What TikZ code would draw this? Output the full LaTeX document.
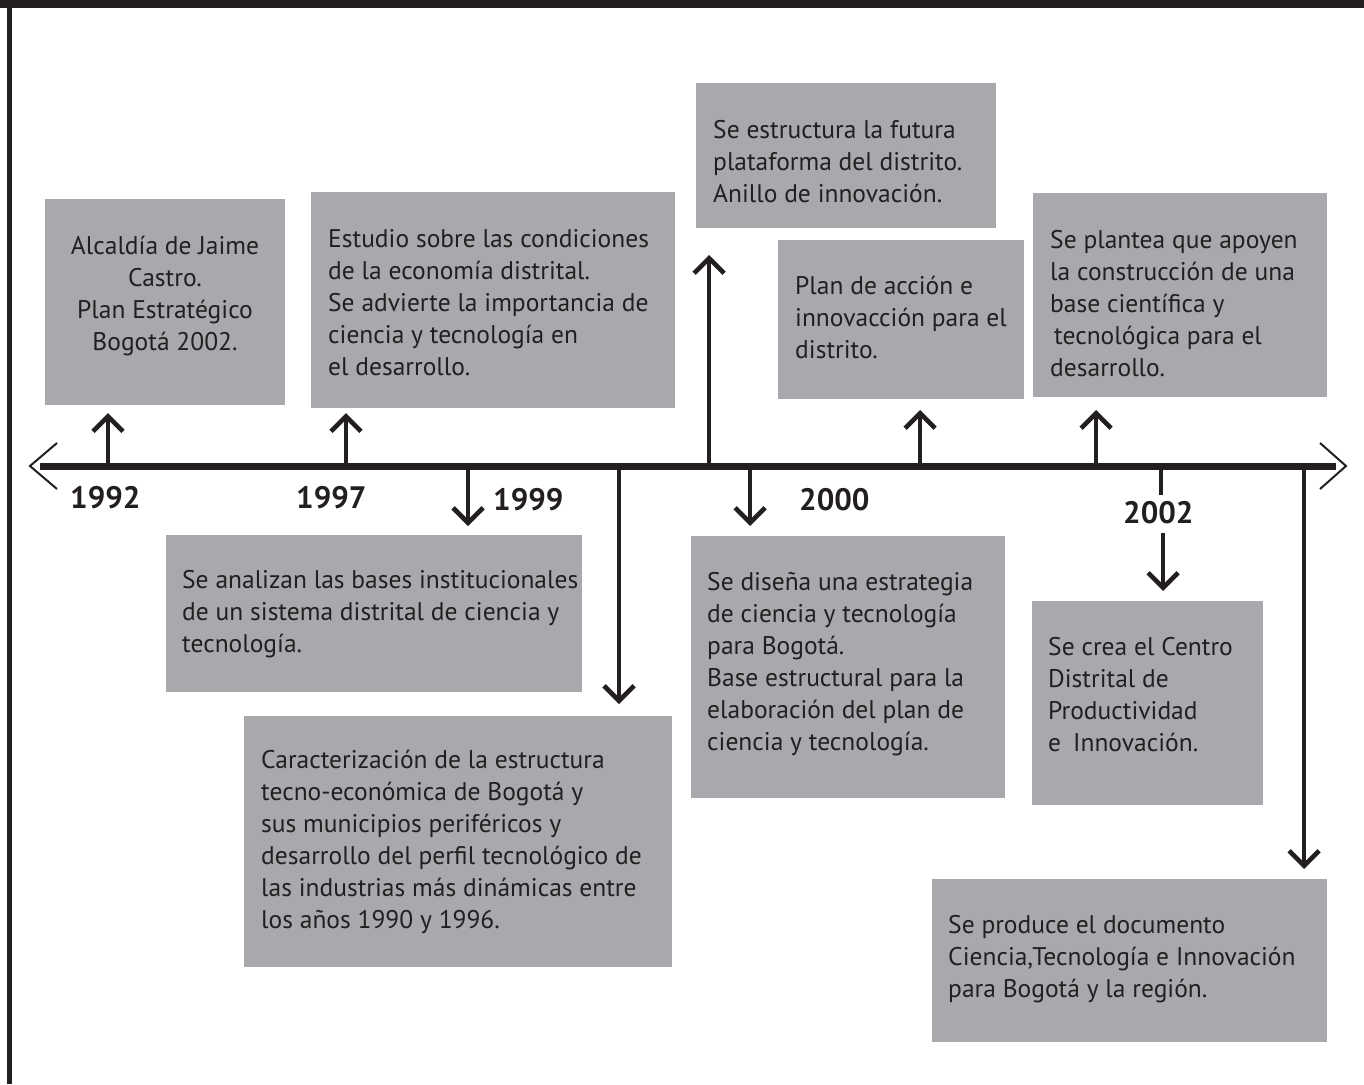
\documentclass[tikz,border=0pt]{standalone}
\usepackage{fontspec}
\setmainfont{PT Sans}
\usetikzlibrary{arrows.meta}
\definecolor{boxgray}{HTML}{A7A9AC}
\definecolor{ink}{HTML}{231F20}
\tikzset{
  box/.style={fill=boxgray, draw=none, inner sep=0pt, anchor=north west},
  txt/.style={inner sep=0pt, anchor=north west, align=left, text=ink,
    font=\fontsize{25.5}{32}\selectfont},
  ctxt/.style={inner sep=0pt, anchor=north, align=center, text=ink,
    font=\fontsize{25.5}{32}\selectfont},
  year/.style={inner sep=0pt, anchor=base west, text=ink,
    font=\fontsize{31}{36}\selectfont\bfseries},
  arr/.style={draw=ink, line width=4.6pt,
    -{Straight Barb[length=15pt,width=30pt,line width=4.6pt]}},
  tick/.style={draw=ink, line width=4.6pt},
  chev/.style={draw=ink, line width=2pt, line join=miter},
}
\newcommand{\sk}{\strut}
\begin{document}
\begin{tikzpicture}[x=1pt,y=-1pt]
\useasboundingbox (0,0) rectangle (1364,1084);
\fill[white] (0,0) rectangle (1364,1084);
% frame
\fill[ink] (0,0) rectangle (1364,8);
\fill[ink] (7,0) rectangle (12,1084);

% boxes
\node[box, minimum width=240pt, minimum height=206pt] (b1) at (45,199) {};
\node[box, minimum width=364pt, minimum height=216pt] (b2) at (311,192) {};
\node[box, minimum width=300pt, minimum height=145pt] (b3) at (696,83) {};
\node[box, minimum width=246pt, minimum height=159pt] (b4) at (778,240) {};
\node[box, minimum width=294pt, minimum height=204pt] (b5) at (1033,193) {};
\node[box, minimum width=416pt, minimum height=157pt] (b6) at (166,535) {};
\node[box, minimum width=428pt, minimum height=251pt] (b7) at (244,716) {};
\node[box, minimum width=314pt, minimum height=262pt] (b8) at (691,536) {};
\node[box, minimum width=231pt, minimum height=204pt] (b9) at (1032,601) {};
\node[box, minimum width=395pt, minimum height=163pt] (b10) at (932,879) {};

% texts
\node[ctxt] (t1) at (165,232) {\sk Alcaldía de Jaime\\Castro.\\Plan Estratégico\\Bogotá 2002.};
\node[txt] (t2) at (328,225) {\sk Estudio sobre las condiciones\\de la economía distrital.\\Se advierte la importancia de\\ciencia y tecnología en\\el desarrollo.};
\node[txt] (t3) at (713,116) {\sk Se estructura la futura\\plataforma del distrito.\\Anillo de innovación.};
\node[txt] (t4) at (795,272) {\sk Plan de acción e\\innovacción para el\\distrito.};
\node[txt] (t5) at (1050,226) {\sk Se plantea que apoyen\\la construcción de una\\base científica y\\\hspace*{4pt}tecnológica para el\\desarrollo.};
\node[txt] (t6) at (182,566) {\sk Se analizan las bases institucionales\\de un sistema distrital de ciencia y\\tecnología.};
\node[txt] (t7) at (261,746) {\sk Caracterización de la estructura\\tecno-económica de Bogotá y\\sus municipios periféricos y\\desarrollo del perfil tecnológico de\\las industrias más dinámicas entre\\los años 1990 y 1996.};
\node[txt] (t8) at (707,568) {\sk Se diseña una estrategia\\de ciencia y tecnología\\para Bogotá.\\Base estructural para la\\elaboración del plan de\\ciencia y tecnología.};
\node[txt] (t9) at (1048,633) {\sk Se crea el Centro\\Distrital de\\Productividad\\e\hspace{12pt}Innovación.};
\node[txt] (t10) at (948,911) {\sk Se produce el documento\\Ciencia,Tecnología e Innovación\\para Bogotá y la región.};

% years
\node[year] (y1) at (70,508) {1992};
\node[year] (y2) at (296,508) {1997};
\node[year] (y3) at (493,510) {1999};
\node[year] (y4) at (799,510) {2000};
\node[year] (y5) at (1123,523) {2002};

% timeline
\coordinate (L) at (40,466);
\coordinate (R) at (1336,466);
\draw[ink, line width=7pt] (L) -- (R);
\coordinate (cl) at (30,466);
\coordinate (cr) at (1346,466);
\draw[chev] (57,443) -- (cl) -- (57,489);
\draw[chev] (1320,443) -- (cr) -- (1320,489);

% connector anchors on timeline
\coordinate (s1) at (108,466);
\coordinate (s2) at (346,466);
\coordinate (s3) at (468,466);
\coordinate (s4) at (619,466);
\coordinate (s5) at (709,466);
\coordinate (s6) at (750,466);
\coordinate (s7) at (920,466);
\coordinate (s8) at (1096,466);
\coordinate (s9) at (1161,466);
\coordinate (s10) at (1304,466);
% arrow tips
\coordinate (e1) at (108,413);
\coordinate (e2) at (346,413);
\coordinate (e3) at (468,526);
\coordinate (e4) at (619,704);
\coordinate (e5) at (709,255);
\coordinate (e6) at (750,526);
\coordinate (e7) at (920,410);
\coordinate (e8) at (1096,410);
\coordinate (k9) at (1161,495);
\coordinate (f9) at (1163,533);
\coordinate (e9) at (1163,591);
\coordinate (e10) at (1304,869);

\draw[arr] (s1) -- (e1);
\draw[arr] (s2) -- (e2);
\draw[arr] (s3) -- (e3);
\draw[arr] (s4) -- (e4);
\draw[arr] (s5) -- (e5);
\draw[arr] (s6) -- (e6);
\draw[arr] (s7) -- (e7);
\draw[arr] (s8) -- (e8);
\draw[tick] (s9) -- (k9);
\draw[arr] (f9) -- (e9);
\draw[arr] (s10) -- (e10);
\end{tikzpicture}
\end{document}
